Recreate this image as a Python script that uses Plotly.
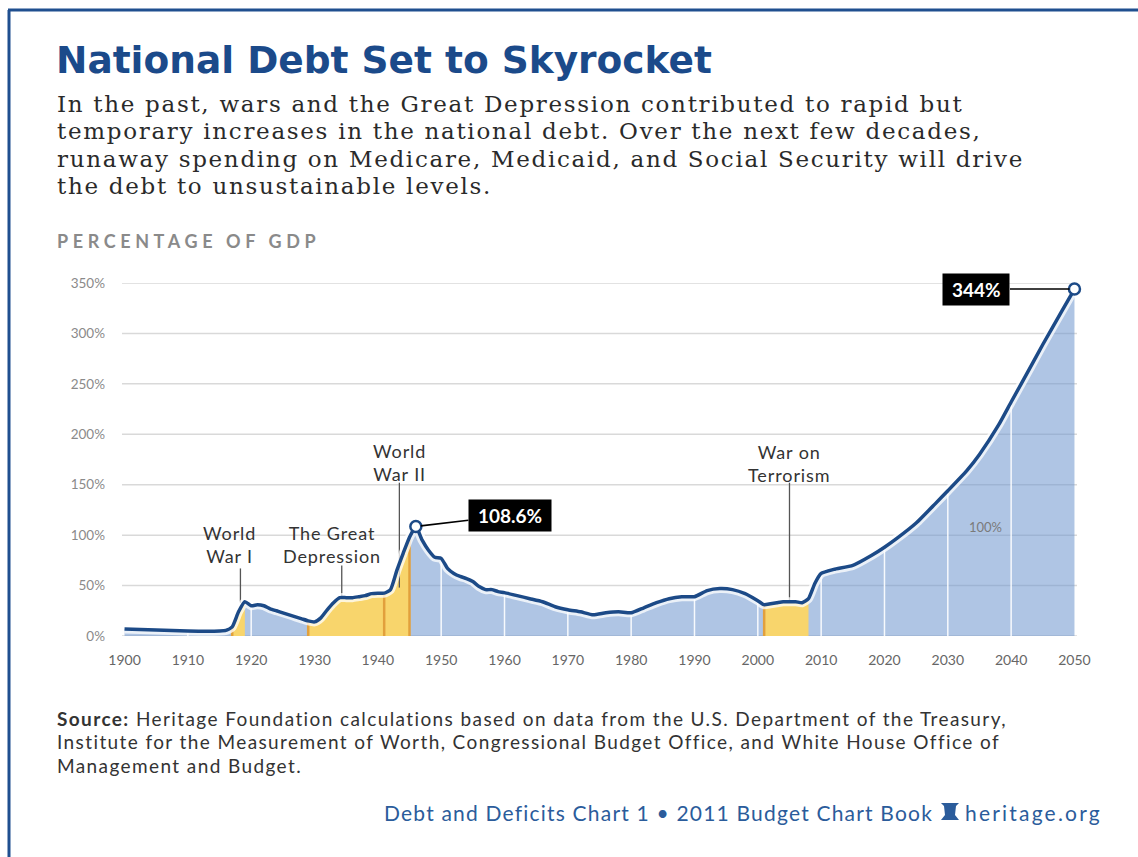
import plotly.graph_objects as go

# ---------------- data ----------------
years = [1900, 1905, 1910, 1915, 1916, 1917, 1918, 1919, 1920, 1921, 1922, 1923, 1924, 1925,
         1926, 1927, 1928, 1929, 1930, 1931, 1932, 1933, 1934, 1935, 1936, 1937, 1938, 1939,
         1940, 1941, 1942, 1943, 1944, 1945, 1946, 1947, 1948, 1949, 1950, 1951, 1952, 1953,
         1954, 1955, 1956, 1957, 1958, 1959, 1960, 1962, 1964, 1966, 1968, 1970, 1972, 1974,
         1976, 1978, 1980, 1982, 1984, 1986, 1988, 1990, 1992, 1994, 1996, 1998, 2000, 2001,
         2002, 2003, 2004, 2005, 2006, 2007, 2008, 2009, 2010, 2012, 2015, 2018, 2020, 2022,
         2025, 2028, 2030, 2033, 2035, 2038, 2040, 2043, 2045, 2048, 2050]
debt_pct = [7, 6, 5, 5, 5.5, 9, 24, 34, 30, 31, 30, 27, 25, 23,
            21, 19, 17, 15, 14, 18, 26, 33, 38, 38, 38, 39, 40, 42,
            42.5, 42.5, 46, 65, 82, 98, 108.6, 95, 85, 78, 77, 67, 62, 59,
            57, 54, 49, 46, 46, 44, 43, 40, 37, 34, 29, 26, 24, 21,
            23, 24, 23, 28, 33, 37, 39, 39, 45, 47, 46, 42, 35, 31,
            32, 33, 34, 34, 34, 33, 37, 52, 62, 66, 70, 80, 88, 97,
            112, 131, 144, 164, 180, 209, 232, 266, 289, 322, 344]

shaded_starts = [1917, 1929, 1941, 2001]
shaded_ends = [1919, 1941, 1945, 2008]

event_labels = ["World<br>War I", "The Great<br>Depression", "World<br>War II", "War on<br>Terrorism"]
event_label_x = [1916.6, 1932.7, 1943.4, 2005.0]
event_label_y = [91, 91, 172, 171]
event_stem_x = [1918.3, 1934.3, 1943.4, 2005.0]
event_stem_top = [67, 70, 152, 152]
event_stem_bottom = [33, 39, 48, 34]

y_ticks = [0, 50, 100, 150, 200, 250, 300, 350]
y_ticktext = ["0%", "50%", "100%", "150%", "200%", "250%", "300%", "350%"]
x_ticks = list(range(1900, 2051, 10))
x_ticktext = [str(v) for v in x_ticks]

callout_years = [1946, 2050]
callout_text = ["108.6%", "344%"]

title = "National Debt Set to Skyrocket"
subtitle_lines = [
    "In the past, wars and the Great Depression contributed to rapid but",
    "temporary increases in the national debt. Over the next few decades,",
    "runaway spending on Medicare, Medicaid, and Social Security will drive",
    "the debt to unsustainable levels.",
]
source_lines = [
    "<b>Source:</b> Heritage Foundation calculations based on data from the U.S. Department of the Treasury,",
    "Institute for the Measurement of Worth, Congressional Budget Office, and White House Office of",
    "Management and Budget.",
]
footer_left = "Debt and Deficits Chart 1 • 2011 Budget Chart Book"
footer_right = "heritage.org"

# ---------------- styling ----------------
NAVY = "#1C4A87"
FILL = "rgba(112,152,206,0.56)"
YELLOW = "#F8D56C"
ORANGE = "#E2A03C"
SANS = "Lato"

L, R, T, B = 122, 61, 283, 221
W, H = 1138, 857
PW, PH = W - L - R, H - T - B


def P(px, py):
    return (px - L) / PW, (H - B - py) / PH


def spaced(t, px):
    return '<span style="letter-spacing:%.2fpx">%s</span>' % (px, t)


lookup = dict(zip(years, debt_pct))

fig = go.Figure()

# blue area
fig.add_trace(go.Scatter(x=years, y=debt_pct, mode="lines", fill="tozeroy",
                         fillcolor=FILL, line=dict(width=0, shape="spline", smoothing=0.5),
                         hoverinfo="skip", showlegend=False))

# white decade lines inside the area
wx, wy = [], []
for d in x_ticks[1:-1]:
    if d in lookup:
        wx += [d, d, None]
        wy += [0, lookup[d] - 2, None]
fig.add_trace(go.Scatter(x=wx, y=wy, mode="lines", line=dict(color="rgba(255,255,255,0.9)", width=1.5),
                         hoverinfo="skip", showlegend=False))

# yellow shaded periods
for a, b in zip(shaded_starts, shaded_ends):
    xs = [y for y in years if a <= y <= b]
    ys = [lookup[y] for y in xs]
    fig.add_trace(go.Scatter(x=xs, y=ys, mode="lines", fill="tozeroy", fillcolor=YELLOW,
                             line=dict(width=0, shape="spline", smoothing=0.5),
                             hoverinfo="skip", showlegend=False))

# orange edges
ox, oy = [], []
for a in shaded_starts + [1945]:
    ox += [a, a, None]
    oy += [0, lookup[a], None]
fig.add_trace(go.Scatter(x=ox, y=oy, mode="lines", line=dict(color=ORANGE, width=2.5),
                         hoverinfo="skip", showlegend=False))

# event stems
sx, sy = [], []
for x0, t0, b0 in zip(event_stem_x, event_stem_top, event_stem_bottom):
    sx += [x0, x0, None]
    sy += [t0, b0, None]
fig.add_trace(go.Scatter(x=sx, y=sy, mode="lines", line=dict(color="#555555", width=1.3),
                         hoverinfo="skip", showlegend=False))

# glow + main line
fig.add_trace(go.Scatter(x=years, y=debt_pct, mode="lines",
                         line=dict(color="rgba(255,255,255,0.75)", width=9, shape="spline", smoothing=0.5),
                         hoverinfo="skip", showlegend=False, cliponaxis=False))
fig.add_trace(go.Scatter(x=years, y=debt_pct, mode="lines",
                         line=dict(color=NAVY, width=3.5, shape="spline", smoothing=0.5),
                         hoverinfo="skip", showlegend=False, cliponaxis=False))

# callout markers
fig.add_trace(go.Scatter(x=callout_years, y=[lookup[y] for y in callout_years], mode="markers",
                         marker=dict(size=11, color="white", line=dict(color=NAVY, width=2.5)),
                         hoverinfo="skip", showlegend=False, cliponaxis=False))

annotations = []
# callout boxes
for yr, txt, ax, ay in zip(callout_years, callout_text, [94, -98], [-11, 0]):
    annotations.append(dict(x=yr, y=lookup[yr], xref="x", yref="y",
                            text="&nbsp;<b>" + txt + "</b>&nbsp;",
                            showarrow=True, arrowhead=0, arrowwidth=1.6, arrowcolor="black",
                            ax=ax, ay=ay, standoff=5, bgcolor="black", borderpad=4,
                            font=dict(family=SANS, size=19, color="white")))

# event labels
for t, lx, ly in zip(event_labels, event_label_x, event_label_y):
    annotations.append(dict(x=lx, y=ly, xref="x", yref="y", text=spaced(t, 0.9),
                            showarrow=False, xanchor="center", yanchor="middle", align="center",
                            font=dict(family=SANS, size=18, color="#333333")))

annotations.append(dict(x=2036, y=108, xref="x", yref="y", text="100%", showarrow=False,
                        font=dict(family=SANS, size=13, color="#7a7a7a")))

# title + subtitle
x0, y0 = P(54, 60)
annotations.append(dict(x=x0, y=y0, xref="paper", yref="paper", text=title, showarrow=False,
                        xanchor="left", yanchor="middle",
                        font=dict(family="DejaVu Sans", size=37.5, color="#1B4A8A", weight="bold")))
for i, t in enumerate(subtitle_lines):
    x0, y0 = P(55, 104 + i * 27.3)
    annotations.append(dict(x=x0, y=y0, xref="paper", yref="paper", text=spaced(t, 1.7), showarrow=False,
                            xanchor="left", yanchor="middle",
                            font=dict(family="DejaVu Serif", size=23, color="#2a2a2a")))
x0, y0 = P(55, 241)
annotations.append(dict(x=x0, y=y0, xref="paper", yref="paper",
                        text=spaced("PERCENTAGE OF GDP", 4.6),
                        showarrow=False, xanchor="left", yanchor="middle",
                        font=dict(family=SANS, size=18, color="#8a8a8a", weight="bold")))

# source
for i, t in enumerate(source_lines):
    x0, y0 = P(55, 718 + i * 23.5)
    annotations.append(dict(x=x0, y=y0, xref="paper", yref="paper", text=spaced(t, 1.4), showarrow=False,
                            xanchor="left", yanchor="middle",
                            font=dict(family=SANS, size=19, color="#333333")))

x0, y0 = P(935, 812)
annotations.append(dict(x=x0, y=y0, xref="paper", yref="paper", text=spaced(footer_left, 1.2),
                        showarrow=False, xanchor="right", yanchor="middle",
                        font=dict(family=SANS, size=21, color="#2B5C9B")))
x0, y0 = P(1104, 812)
annotations.append(dict(x=x0, y=y0, xref="paper", yref="paper", text=spaced(footer_right, 2.2),
                        showarrow=False, xanchor="right", yanchor="middle",
                        font=dict(family=SANS, size=21, color="#2B5C9B")))

shapes = []
# horizontal gridlines
for v in y_ticks:
    shapes.append(dict(type="line", xref="paper", yref="y", x0=0, x1=1, y0=v, y1=v,
                       line=dict(color="#d9d9d9", width=1.5), layer="below"))

# frame (top and left rules)
a = P(8, 10); b = P(1138, 10)
shapes.append(dict(type="line", xref="paper", yref="paper", x0=a[0], y0=a[1], x1=b[0], y1=b[1],
                   line=dict(color="#1F4F8F", width=3)))
a = P(9, 10); b = P(9, 857)
shapes.append(dict(type="line", xref="paper", yref="paper", x0=a[0], y0=a[1], x1=b[0], y1=b[1],
                   line=dict(color="#1F4F8F", width=3)))

# small bell icon in footer
pts = [(941, 803), (959, 803), (956, 806), (955, 815), (959, 820), (941, 820), (945, 815), (944, 806)]
path = "M " + " L ".join("%.5f,%.5f" % P(px, py) for px, py in pts) + " Z"
shapes.append(dict(type="path", xref="paper", yref="paper", path=path,
                   fillcolor="#2B5C9B", line=dict(width=0)))

fig.update_layout(
    width=W, height=H,
    margin=dict(l=L, r=R, t=T, b=B),
    paper_bgcolor="white", plot_bgcolor="white",
    showlegend=False,
    annotations=annotations,
    shapes=shapes,
    xaxis=dict(range=[1899.6, 2050.4], tickvals=x_ticks, ticktext=x_ticktext, showgrid=False,
               zeroline=False, showline=False, ticks="", ticklabelstandoff=14,
               tickfont=dict(family=SANS, size=14, color="#666666"), fixedrange=True),
    yaxis=dict(range=[0, 350], tickvals=y_ticks, ticktext=y_ticktext, showgrid=False,
               zeroline=False, showline=False, ticks="", ticklabelstandoff=16,
               tickfont=dict(family=SANS, size=13.5, color="#8a8a8a"), fixedrange=True),
)

fig.write_html("out.html", config={"displayModeBar": False},
               post_script="document.body.style.margin='0';document.body.style.overflow='hidden';")
